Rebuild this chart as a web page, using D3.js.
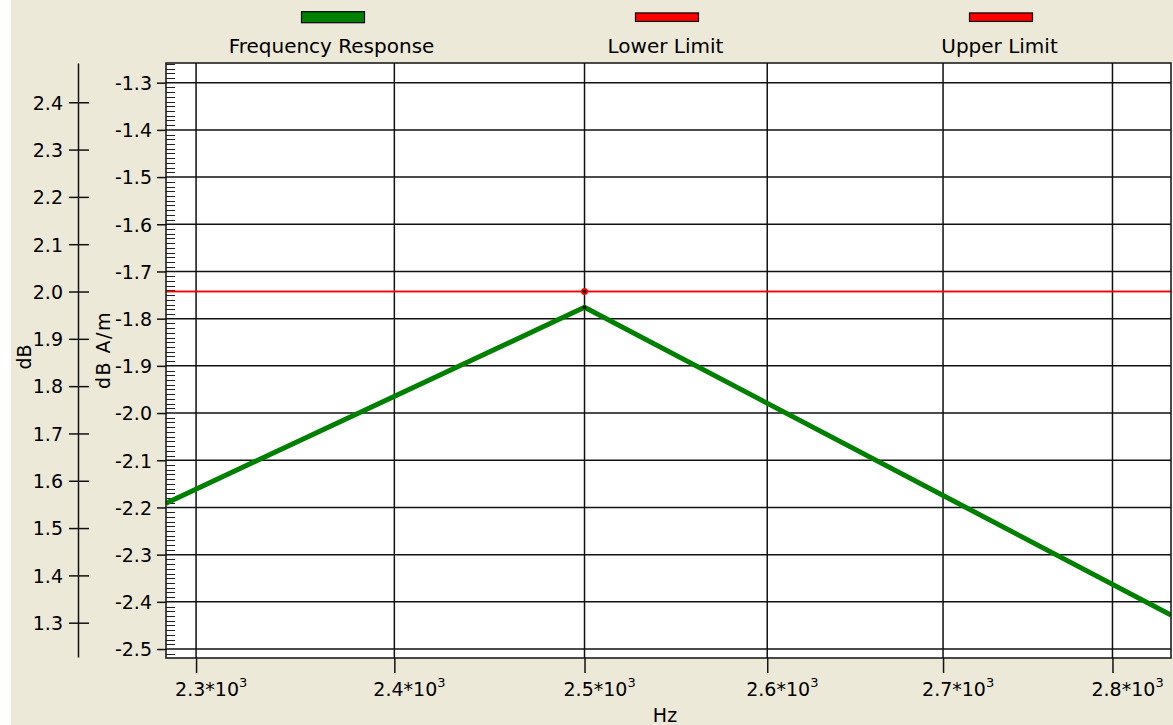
<!DOCTYPE html>
<html>
<head>
<meta charset="utf-8">
<script src="https://cdn.jsdelivr.net/npm/d3@7"></script>
<style>
  html, body { margin: 0; padding: 0; background: #ffffff; }
  svg text { font-family: "DejaVu Sans", sans-serif; fill: #000; }
</style>
</head>
<body>
<svg id="chart" width="1173" height="725"></svg>
<script>
// ---------- data ----------
const seriesNames = ["Frequency Response", "Lower Limit", "Upper Limit"];
const seriesColors = ["#008000", "#ff0000", "#ff0000"];

const responseFreqHz = [2285.2, 2500, 2835.4];
const responseDbAm = [-2.191, -1.776, -2.428];

const limitFreqHz = [2285.2, 2500, 2835.4];
const lowerLimitDb = [2.0, 2.0, 2.0];
const upperLimitDb = [2.0, 2.0, 2.0];

const xTickValues = [2300, 2400, 2500, 2600, 2700, 2800];
const xTickLabels = ["2.3*10", "2.4*10", "2.5*10", "2.6*10", "2.7*10", "2.8*10"];
const xTickExponent = "3";

const rightTickValues = [-1.3, -1.4, -1.5, -1.6, -1.7, -1.8, -1.9, -2.0, -2.1, -2.2, -2.3, -2.4, -2.5];
const rightTickLabels = ["-1.3", "-1.4", "-1.5", "-1.6", "-1.7", "-1.8", "-1.9", "-2.0", "-2.1", "-2.2", "-2.3", "-2.4", "-2.5"];
const leftTickValues = [2.4, 2.3, 2.2, 2.1, 2.0, 1.9, 1.8, 1.7, 1.6, 1.5, 1.4, 1.3];
const leftTickLabels = ["2.4", "2.3", "2.2", "2.1", "2.0", "1.9", "1.8", "1.7", "1.6", "1.5", "1.4", "1.3"];

// ---------- layout ----------
const svg = d3.select("#chart");
const W = 1173, H = 725;
const plot = { left: 166, right: 1171, top: 63, bottom: 658 };

svg.append("rect").attr("x", 11).attr("y", 0).attr("width", W - 11).attr("height", H).attr("fill", "#ECE9D8");
svg.append("rect").attr("x", plot.left).attr("y", plot.top)
  .attr("width", W - plot.left).attr("height", plot.bottom - plot.top).attr("fill", "#ffffff");

const x = d3.scaleLog().domain([2285.2, 2835.4]).range([plot.left, plot.right]);
const yR = d3.scaleLinear().domain([-1.2583, -2.519]).range([plot.top, plot.bottom]);
const yL = d3.scaleLinear().domain([2.483, 1.2275]).range([63, 657]);

const gridColor = "#111";

// clip
svg.append("defs").append("clipPath").attr("id", "clip")
  .append("rect").attr("x", plot.left).attr("y", plot.top)
  .attr("width", plot.right - plot.left).attr("height", plot.bottom - plot.top);

// grid
const grid = svg.append("g");
grid.selectAll("line.h").data(rightTickValues).join("line")
  .attr("x1", plot.left).attr("x2", plot.right)
  .attr("y1", d => yR(d)).attr("y2", d => yR(d))
  .attr("stroke", gridColor).attr("stroke-width", 1.5);
grid.selectAll("line.v").data(xTickValues).join("line")
  .attr("y1", plot.top).attr("y2", plot.bottom)
  .attr("x1", d => x(d)).attr("x2", d => x(d))
  .attr("stroke", gridColor).attr("stroke-width", 1.5);

// minor ticks on right-axis (inside plot)
const minor = d3.range(-126, -252, -1).filter(v => v % 10 !== 0).map(v => v / 100);
svg.append("g").selectAll("line").data(minor).join("line")
  .attr("x1", plot.left).attr("x2", plot.left + 9)
  .attr("y1", d => Math.round(yR(d)) + 0.5).attr("y2", d => Math.round(yR(d)) + 0.5)
  .attr("stroke", "#222").attr("stroke-width", 1);

// series
const g = svg.append("g").attr("clip-path", "url(#clip)");
const lineR = d3.line().x((d, i) => x(responseFreqHz[i])).y(d => yR(d));
const lineL = d3.line().x((d, i) => x(limitFreqHz[i])).y(d => yL(d));
g.append("path").datum(lowerLimitDb).attr("d", lineL).attr("fill", "none")
  .attr("stroke", seriesColors[1]).attr("stroke-width", 1.6);
g.append("path").datum(upperLimitDb).attr("d", lineL).attr("fill", "none")
  .attr("stroke", seriesColors[2]).attr("stroke-width", 1.6);
g.append("path").datum(responseDbAm).attr("d", lineR).attr("fill", "none")
  .attr("stroke", seriesColors[0]).attr("stroke-width", 5).attr("stroke-linejoin", "miter");

// markers at 2500 Hz
g.append("circle").attr("cx", x(limitFreqHz[1])).attr("cy", yL(lowerLimitDb[1])).attr("r", 3.5).attr("fill", "#ff0000");
g.append("circle").attr("cx", x(limitFreqHz[1])).attr("cy", yL(lowerLimitDb[1])).attr("r", 1.8).attr("fill", "#000");
g.append("circle").attr("cx", x(responseFreqHz[1])).attr("cy", yR(responseDbAm[1])).attr("r", 1.8).attr("fill", "#000");

// plot border
svg.append("rect").attr("x", plot.left).attr("y", plot.top)
  .attr("width", plot.right - plot.left).attr("height", plot.bottom - plot.top)
  .attr("fill", "none").attr("stroke", gridColor).attr("stroke-width", 1.5);

// right axis (dB A/m) drawn at plot left
const axR = svg.append("g").attr("transform", `translate(${plot.left},0)`)
  .call(d3.axisLeft(yR).tickValues(rightTickValues)
    .tickFormat((d, i) => rightTickLabels[i]).tickSizeInner(9).tickSizeOuter(0).tickPadding(5));
axR.select(".domain").remove();
axR.selectAll(".tick line").attr("stroke", gridColor).attr("stroke-width", 1.5);
axR.selectAll(".tick text").attr("font-size", 19).attr("font-family", "DejaVu Sans").attr("dy", "0.36em");

// left axis (dB)
const axL = svg.append("g").attr("transform", "translate(78,0)")
  .call(d3.axisLeft(yL).tickValues(leftTickValues)
    .tickFormat((d, i) => leftTickLabels[i]).tickSizeInner(9).tickSizeOuter(0).tickPadding(6));
axL.select(".domain").attr("stroke", gridColor).attr("stroke-width", 1.5);
axL.selectAll(".tick line").attr("x1", 11).attr("stroke", gridColor).attr("stroke-width", 1.5);
axL.selectAll(".tick text").attr("font-size", 19).attr("font-family", "DejaVu Sans").attr("dy", "0.36em");

// x axis
const axX = svg.append("g").attr("transform", `translate(0,${plot.bottom})`)
  .call(d3.axisBottom(x).tickValues(xTickValues).tickFormat(() => "").tickSizeInner(15).tickSizeOuter(0));
axX.select(".domain").remove();
axX.selectAll(".tick line").attr("stroke", gridColor).attr("stroke-width", 1.5);
axX.selectAll(".tick text").each(function (d, i) {
  const t = d3.select(this);
  t.attr("x", -21.5).attr("y", 38).attr("dy", null).attr("text-anchor", "start")
    .attr("font-size", 19).attr("font-family", "DejaVu Sans").text(null);
  t.append("tspan").text(xTickLabels[i]);
  t.append("tspan").attr("font-size", 13).attr("dy", -9).text(xTickExponent);
});

// axis titles
svg.append("text").attr("x", 665).attr("y", 722).attr("text-anchor", "middle")
  .attr("font-size", 19).text("Hz");
svg.append("text").attr("transform", "translate(31,357) rotate(-90)").attr("text-anchor", "middle")
  .attr("font-size", 19).text("dB");
svg.append("text").attr("transform", "translate(110,350) rotate(-90)").attr("text-anchor", "middle")
  .attr("font-size", 19).attr("letter-spacing", 1.5).text("dB A/m");

// legend
const legendX = [333, 667, 1001];
const swatchH = [11, 8.5, 8.5];
const legend = svg.append("g");
seriesNames.forEach((name, i) => {
  legend.append("rect").attr("x", legendX[i] - 31.5).attr("y", 17.2 - swatchH[i] / 2)
    .attr("width", 63).attr("height", swatchH[i])
    .attr("fill", seriesColors[i]).attr("stroke", "#000").attr("stroke-width", 1.2);
  legend.append("text").attr("x", legendX[i] - 1.5).attr("y", 52.5).attr("text-anchor", "middle")
    .attr("font-size", 20).text(name);
});
</script>
</body>
</html>
